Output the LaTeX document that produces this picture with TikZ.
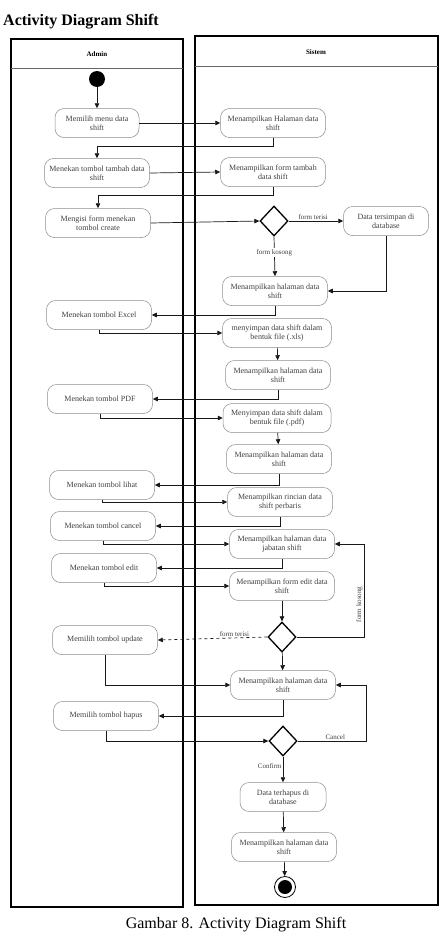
\documentclass[tikz,border=0pt]{standalone}
\usepackage{fontspec}
\setmainfont{Liberation Serif}
\usetikzlibrary{arrows.meta,shapes.geometric,calc}
\begin{document}
\begin{tikzpicture}[x=1pt,y=-1pt,
  act/.style={draw=black!45, line width=0.5pt, rounded corners=9pt, minimum height=29pt, minimum width=105pt, align=center, inner sep=2pt, font=\fontsize{8}{9}\selectfont, text=black!75},
  dec/.style={diamond, draw=black, line width=1.3pt, minimum width=28pt, minimum height=30pt, inner sep=0pt},
  arr/.style={-{Triangle[length=5pt,width=4.5pt]}, line width=0.7pt, black!90},
  lane/.style={draw=black, line width=1.2pt},
  lbl/.style={font=\fontsize{7}{8}\selectfont, text=black!75, inner sep=1pt},
  hdr/.style={font=\bfseries\fontsize{7}{8}\selectfont}]
\useasboundingbox (0,0) rectangle (446,934);
\fill[white] (0,0) rectangle (446,934);

% title
\node[anchor=base west, font=\bfseries\fontsize{16}{18}\selectfont, inner sep=0pt] (title) at (3,26) {Activity Diagram Shift};

% lanes
\draw[lane] (11,39) rectangle (183,907);
\draw[black!60, line width=0.6pt] (11,68) -- (183,68);
\node[hdr] (hadmin) at (97,54) {Admin};
\draw[lane] (195,36) rectangle (438,905);
\draw[black!60, line width=0.6pt] (195,66) -- (438,66);
\node[hdr] (hsistem) at (316,52) {Sistem};

% start
\node[circle, fill=black, minimum size=16pt, inner sep=0pt] (start) at (97,79) {};

% Admin actions
\node[act, minimum width=84pt] (A1) at (97,123) {Memilih menu data\\shift};
\node[act] (A2) at (97,173) {Menekan tombol tambah data\\shift};
\node[act] (A3) at (98,223) {Mengisi form menekan\\tombol create};
\node[act] (A4) at (99,315) {Menekan tombol Excel};
\node[act] (A5) at (100,399) {Menekan tombol PDF};
\node[act] (A6) at (102,485) {Menekan tombol lihat};
\node[act] (A7) at (103,526) {Menekan tombol cancel};
\node[act] (A8) at (104,568) {Menekan tombol edit};
\node[act] (A9) at (105,640) {Memilih tombol update};
\node[act] (A10) at (106,716) {Memilih tombol hapus};

% Sistem actions
\node[act] (S1) at (273,123) {Menampilkan Halaman data\\shift};
\node[act] (S2) at (273,172) {Menampilkan form tambah\\data shift};
\node[dec] (D1) at (274,221) {};
\node[act, minimum width=85pt] (S3) at (386,221) {Data tersimpan di\\database};
\node[act] (S4) at (275,291) {Menampilkan halaman data\\shift};
\node[act, minimum width=109pt] (S5) at (277,333) {menyimpan data shift dalam\\bentuk file (.xls)};
\node[act] (S6) at (278,375) {Menampilkan halaman data\\shift};
\node[act, minimum width=108pt] (S7) at (277,418) {Menyimpan data shift dalam\\bentuk file (.pdf)};
\node[act] (S8) at (279,459) {Menampilkan halaman data\\shift};
\node[act] (S9) at (280,502) {Menampilkan rincian data\\shift perbaris};
\node[act] (S10) at (282,544) {Menampilkan halaman data\\jabatan shift};
\node[act] (S11) at (282,586) {Menampilkan form edit data\\shift};
\node[dec] (D2) at (282,637) {};
\node[act] (S12) at (283,685) {Menampilkan halaman data\\shift};
\node[dec] (D3) at (283,741) {};
\node[act, minimum width=86pt] (S13) at (283,797) {Data terhapus di\\database};
\node[act] (S14) at (284,847) {Menampilkan halaman data\\shift};

% end
\node[circle, draw=black, line width=0.8pt, minimum size=21pt, inner sep=0pt] (end) at (285,887) {};
\fill[black] (end.center) circle (7pt);

\coordinate (k1) at (364,0);
\coordinate (k2) at (366,0);

% connectors
\draw[arr] (start) -- (A1);
\draw[arr] (A1.east) -- (S1.west);
\draw[arr] (S1.south) -- ++(0,9) -| (A2.north);
\draw[arr] (A2.east) -- (S2.west);
\draw[arr] (S2.south) -- ++(0,9) -| (A3.north);
\draw[arr] (A3.east) -- (D1.west);
\draw[arr] (D1.east) -- node[lbl, above, pos=0.45] {form terisi} (S3.west);
\draw[arr] (D1.south) -- node[lbl, fill=white, pos=0.4] {form kosong} (S4.north);
\draw[arr] (S3.south) |- (S4.east);
\draw[arr] (S4.south) |- (A4.east);
\draw[arr] (A4.south) |- (S5.west);
\draw[arr] (S5) -- (S6);
\draw[arr] (S6.south) |- (A5.east);
\draw[arr] (A5.south) |- (S7.west);
\draw[arr] (S7) -- (S8);
\draw[arr] (S8.south) |- (A6.east);
\draw[arr] (A6.south) |- (S9.west);
\draw[arr] (S9.south) |- (A7.east);
\draw[arr] (A7.south) |- (S10.west);
\draw[arr] (S10.south) |- (A8.east);
\draw[arr] (A8.south) |- (S11.west);
\draw[arr] (S11) -- (D2);
\draw[arr, dashed] (D2.west) -- node[lbl, above, pos=0.3] {form terisi} (A9.east);
\draw[arr] (D2.east) -- (D2.east -| k1) -- node[lbl, rotate=90, anchor=south, pos=0.35] {form kosong} (S10.east -| k1) -- (S10.east);
\draw[arr] (D2) -- (S12);
\draw[arr] (A9.south) |- (S12.west);
\draw[arr] (S12.south) |- (A10.east);
\draw[arr] (A10.south) |- (D3.west);
\draw[arr] (D3.east) -- node[lbl, above, pos=0.55] {Cancel} (D3.east -| k2) -- (S12.east -| k2) -- (S12.east);
\draw[arr] (D3) -- node[lbl, left, pos=0.35] {Confirm} (S13);
\draw[arr] (S13) -- (S14);
\draw[arr] (S14) -- (end);

% caption
\node[font=\fontsize{16}{18}\selectfont, inner sep=0pt] (caption) at (236,925) {Gambar 8. Activity Diagram Shift};
\end{tikzpicture}
\end{document}
